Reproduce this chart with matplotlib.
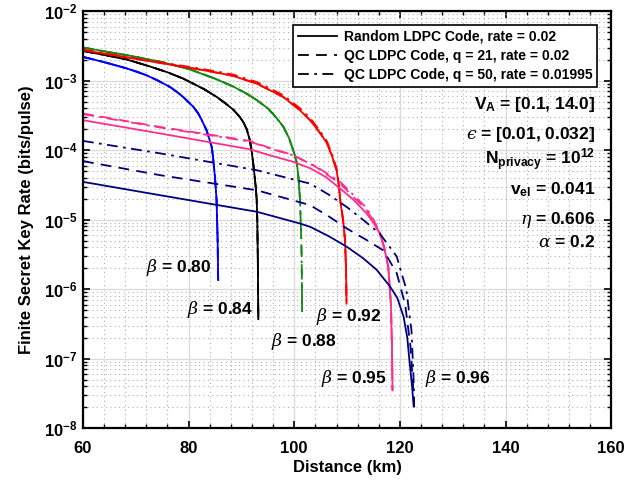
import matplotlib
matplotlib.use('Agg')
import matplotlib.pyplot as plt
from matplotlib.lines import Line2D
from matplotlib.ticker import LogLocator, MultipleLocator, NullFormatter

plt.rcParams['font.family'] = 'Liberation Sans'
plt.rcParams['font.weight'] = 'bold'
plt.rcParams['axes.labelweight'] = 'bold'
plt.rcParams['mathtext.fontset'] = 'custom'
plt.rcParams['mathtext.rm'] = 'Liberation Sans:bold'
plt.rcParams['mathtext.bf'] = 'Liberation Sans:bold'
plt.rcParams['mathtext.it'] = 'DejaVu Serif:style=italic:weight=normal'

# beta = 0.80 (blue)
d80 = [60, 64, 68.3, 70, 72, 74, 76.5, 78, 79, 80.9, 81.8, 82.5, 83.4, 84.4, 84.7, 85.0,
       85.3, 85.5, 85.6]
r80 = [2.2e-3, 1.85e-3, 1.5e-3, 1.36e-3, 1.2e-3, 1.02e-3, 8.1e-4, 6.7e-4, 5.8e-4, 4.2e-4,
       3.4e-4, 2.7e-4, 1.94e-4, 1.1e-4, 7e-5, 4e-5, 1.9e-5, 5e-6, 1.35e-6]

# beta = 0.84 (black)
d84 = [60, 64, 68.3, 72.7, 76, 79.0, 83, 85.3, 87, 88.5, 89.7, 90.4, 91.0, 91.6, 92.0, 92.4,
       92.7, 92.9, 93.0, 93.1, 93.2]
r84 = [2.68e-3, 2.35e-3, 2.02e-3, 1.6e-3, 1.32e-3, 1.07e-3, 7.5e-4, 5.85e-4, 4.7e-4, 3.8e-4,
       3.0e-4, 2.5e-4, 2e-4, 1.39e-4, 9e-5, 5e-5, 3e-5, 1.9e-5, 1e-5, 3e-6, 3.7e-7]

# beta = 0.88 (green)
d88 = [60, 64, 68.3, 75, 80.3, 85, 88.5, 91, 93, 95, 96.5, 97.9, 99, 100, 100.5, 100.8,
       101.1, 101.3, 101.4, 101.5]
r88 = [3.0e-3, 2.65e-3, 2.33e-3, 1.85e-3, 1.45e-3, 1.07e-3, 8.2e-4, 6.5e-4, 5.2e-4, 4.0e-4,
       3.0e-4, 2.2e-4, 1.5e-4, 9e-5, 6.5e-5, 4e-5, 1.9e-5, 6e-6, 3e-6, 4.0e-7]
d88_solid_end = 101.2

# beta = 0.92 (red)
d92 = [60, 64, 68.3, 75, 80.9, 85, 88.5, 93, 97.9, 101, 103.0, 104.8, 106.2, 107.2, 108.0,
       108.4, 108.7, 109.3, 109.6, 109.8, 109.9]
r92 = [2.75e-3, 2.45e-3, 2.16e-3, 1.78e-3, 1.5e-3, 1.32e-3, 1.17e-3, 9e-4, 5.85e-4, 3.8e-4,
       2.7e-4, 1.8e-4, 1.26e-4, 8e-5, 5.2e-5, 3.3e-5, 1.9e-5, 9e-6, 5.1e-6, 2e-6, 6.2e-7]
r92_dd = [2.8e-3, 2.5e-3, 2.2e-3, 1.82e-3, 1.55e-3, 1.37e-3, 1.22e-3, 9.5e-4, 6.2e-4, 4.05e-4,
          2.9e-4, 1.93e-4, 1.34e-4, 8.5e-5, 5.5e-5, 3.5e-5, 2.0e-5, 9.5e-6, 5.3e-6, 2e-6, 6.2e-7]

# beta = 0.95 (pink)
d95 = [60, 74.6, 91.6, 95, 99.8, 103, 106, 108.7, 111, 113.7, 115, 116.2, 117, 117.8, 118.3,
       118.5, 118.6]
r95 = [2.7e-4, 1.74e-4, 1.03e-4, 8.6e-5, 6.8e-5, 5.5e-5, 4.1e-5, 2.8e-5, 2.0e-5, 1.23e-5,
       9e-6, 6.3e-6, 4e-6, 2.1e-6, 6e-7, 1.5e-7, 3.5e-8]
d95_q21 = [60, 74.6, 91.6, 95, 99.8, 104, 108.7, 111, 113.7, 115, 116.2, 117, 117.8, 118.3,
           118.5, 118.6]
r95_q21 = [3.37e-4, 2.16e-4, 1.36e-4, 1.1e-4, 8.5e-5, 5.8e-5, 3.3e-5, 2.2e-5, 1.37e-5, 9.5e-6,
           6.3e-6, 4e-6, 2.1e-6, 6e-7, 1.5e-7, 3.5e-8]
r95_q50 = [3.3e-4, 2.12e-4, 1.33e-4, 1.08e-4, 8.4e-5, 5.9e-5, 3.5e-5, 2.35e-5, 1.47e-5, 1.0e-5,
           6.6e-6, 4.1e-6, 2.1e-6, 6e-7, 1.5e-7, 3.5e-8]

# beta = 0.96 (navy)
d96 = [60, 74.6, 92.9, 101.1, 103, 106.5, 109.9, 113, 115.6, 118.1, 119.5, 120.7, 121.4,
       121.8, 122.3, 122.6]
r96 = [3.5e-5, 2.25e-5, 1.3e-5, 8.8e-6, 7.9e-6, 5.8e-6, 4.1e-6, 2.8e-6, 1.9e-6, 1.1e-6,
       7.5e-7, 4e-7, 2e-7, 9.5e-8, 4e-8, 2.1e-8]
d96_q21 = [60, 74.6, 92.9, 103, 106.5, 109.9, 113.5, 116.9, 119.4, 121.0, 122.0, 122.5, 122.7]
r96_q21 = [6.95e-5, 4.37e-5, 2.65e-5, 1.62e-5, 1.12e-5, 7.5e-6, 5.2e-6, 3.6e-6, 1.7e-6, 6e-7,
           1.5e-7, 4e-8, 2e-8]
d96_q50 = [60, 74.6, 92.9, 103, 106.5, 109.9, 113, 116.2, 119.4, 121.2, 122.2, 122.6, 122.7]
r96_q50 = [1.36e-4, 9e-5, 5.15e-5, 3.3e-5, 2.3e-5, 1.53e-5, 1.0e-5, 6.3e-6, 2.95e-6, 1e-6,
           2.5e-7, 5e-8, 2e-8]

beta_labels = ['0.80', '0.84', '0.88', '0.92', '0.95', '0.96']
legend_labels = ['Random LDPC Code, rate = 0.02',
                 'QC LDPC Code, q = 21, rate = 0.02',
                 'QC LDPC Code, q = 50, rate = 0.01995']
param_lines = [r'V$_{\mathbf{A}}$ = [0.1, 14.0]',
               '$\u03f5$ = [0.01, 0.032]',
               r'N$_{\mathbf{privacy}}$ = 10$^{\mathbf{12}}$',
               r'v$_{\mathbf{el}}$ = 0.041',
               r'$\eta$ = 0.606',
               r'$\alpha$ = 0.2']

BLUE = '#0000ff'
BLACK = '#000000'
GREEN = '#138a13'
RED = '#ff0000'
PINK = '#ff2d8c'
NAVY = '#00007f'
LW = 1.3
SOLID = '-'
DASH = (0, (6, 4))
DASHDOT = (0, (6, 3, 1.5, 3))

fig = plt.figure(figsize=(6.38, 4.86), dpi=100)
ax = fig.add_axes([0.130, 0.119, 0.828, 0.858])

# beta 0.80 .. 0.92: the three codes almost coincide
ax.plot(d80, r80, ls=SOLID, color=BLUE, lw=LW)
ax.plot(d80, r80, ls=DASH, color=BLUE, lw=LW)
ax.plot(d80, r80, ls=DASHDOT, color=BLUE, lw=LW)

ax.plot(d84, r84, ls=SOLID, color=BLACK, lw=LW)
ax.plot(d84, r84, ls=DASH, color=BLACK, lw=LW)
ax.plot(d84, r84, ls=DASHDOT, color=BLACK, lw=LW)

n_solid = sum(1 for d in d88 if d <= d88_solid_end)
ax.plot(d88[:n_solid], r88[:n_solid], ls=SOLID, color=GREEN, lw=LW)
ax.plot(d88, r88, ls=DASH, color=GREEN, lw=LW)
ax.plot(d88, r88, ls=DASHDOT, color=GREEN, lw=LW)

ax.plot(d92, r92, ls=SOLID, color=RED, lw=LW)
ax.plot(d92, r92, ls=DASH, color=RED, lw=LW)
ax.plot(d92, r92_dd, ls=DASHDOT, color=RED, lw=LW)

ax.plot(d95, r95, ls=SOLID, color=PINK, lw=LW)
ax.plot(d95_q21, r95_q21, ls=DASH, color=PINK, lw=LW)
ax.plot(d95_q21, r95_q50, ls=DASHDOT, color=PINK, lw=LW)

ax.plot(d96, r96, ls=SOLID, color=NAVY, lw=LW)
ax.plot(d96_q21, r96_q21, ls=DASH, color=NAVY, lw=LW)
ax.plot(d96_q50, r96_q50, ls=DASHDOT, color=NAVY, lw=LW)

ax.set_yscale('log')
ax.set_xlim(60, 160)
ax.set_ylim(1e-8, 1e-2)
ax.xaxis.set_major_locator(MultipleLocator(20))
ax.xaxis.set_minor_locator(MultipleLocator(4))
ax.yaxis.set_major_locator(LogLocator(base=10, numticks=10))
ax.yaxis.set_minor_locator(LogLocator(base=10, subs=range(2, 10), numticks=20))
ax.yaxis.set_minor_formatter(NullFormatter())

ax.grid(True, which='major', color='#dcdcdc', lw=1.0, ls='-')
ax.grid(True, which='minor', color='#b0b0b0', lw=0.8, ls=(0, (1, 3)))
ax.set_axisbelow(True)

ax.tick_params(which='both', direction='in', top=True, right=True, labelsize=12)
ax.tick_params(which='major', length=5, width=1.2)
ax.tick_params(which='minor', length=3, width=1.0)
ax.tick_params(axis='x', which='major', pad=9)
ax.tick_params(axis='y', which='major', pad=4)
for s in ax.spines.values():
    s.set_linewidth(1.6)

ax.set_xlabel('Distance (km)', fontsize=12, labelpad=3)
ax.set_ylabel('Finite Secret Key Rate (bits/pulse)', fontsize=12, labelpad=7)

handles = [Line2D([], [], color='k', ls=SOLID, lw=1.3),
           Line2D([], [], color='k', ls=DASH, lw=1.3),
           Line2D([], [], color='k', ls=DASHDOT, lw=1.3)]
leg = ax.legend(handles, legend_labels, loc='upper right', fontsize=10, fancybox=False,
                framealpha=1, edgecolor='k', borderaxespad=1.0, handlelength=2.8,
                handletextpad=0.5, borderpad=0.35, labelspacing=0.35)
leg.get_frame().set_linewidth(1.2)

# parameter block on the right
param_y = [105, 135, 160, 190, 220, 242]
for txt, py in zip(param_lines, param_y):
    ax.text(595 / 638, 1 - py / 486, txt, transform=fig.transFigure, ha='right', va='center',
            fontsize=12.5, fontweight='bold')

# beta labels (positions in figure pixels)
beta_pos = [(211, 267), (253, 310), (337, 341), (382, 316), (387, 378), (425, 378)]
for b, (px, py) in zip(beta_labels, beta_pos):
    ha = 'left' if b == '0.96' else 'right'
    ax.text(px / 638, 1 - py / 486, r'$\beta$ = ' + b, transform=fig.transFigure, ha=ha,
            va='center', fontsize=12.5, fontweight='bold')

fig.savefig('out.png', dpi=100)
